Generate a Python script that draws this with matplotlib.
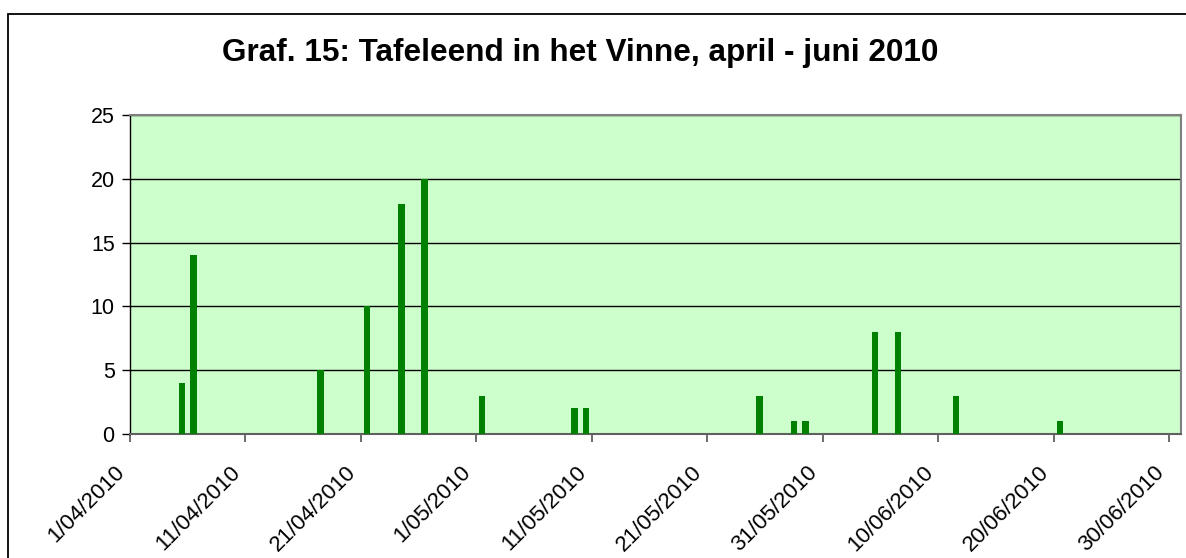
import matplotlib
matplotlib.use("Agg")
import matplotlib.pyplot as plt
import matplotlib.dates as mdates
from matplotlib.ticker import FuncFormatter, MultipleLocator
from matplotlib.patches import Rectangle
from matplotlib.transforms import ScaledTranslation
import datetime as dt

title = "Graf. 15: Tafeleend in het Vinne, april - juni 2010"
dates = ["2010-04-05", "2010-04-06", "2010-04-17", "2010-04-21", "2010-04-24",
         "2010-04-26", "2010-05-01", "2010-05-09", "2010-05-10", "2010-05-25",
         "2010-05-28", "2010-05-29", "2010-06-04", "2010-06-06", "2010-06-11",
         "2010-06-20"]
counts = [4, 14, 5, 10, 18, 20, 3, 2, 2, 3, 1, 1, 8, 8, 3, 1]
x_start = "2010-04-01"
x_end = "2010-07-01"
tick_step_days = 10
y_max = 25
y_step = 5

plt.rcParams['font.family'] = ['Liberation Sans', 'DejaVu Sans']

fig = plt.figure(figsize=(11.86, 5.58), dpi=100)
fig.patch.set_facecolor('white')
fig.patches.append(Rectangle((8 / 1186, -0.1), 1.2, 1.1 - 14 / 558, transform=fig.transFigure,
                             fill=False, edgecolor='black', linewidth=1.3))

ax = fig.add_axes([130 / 1186, (558 - 434) / 558, (1181 - 130) / 1186, (434 - 115) / 558])
ax.set_facecolor('#CCFFCC')

d = [dt.datetime.strptime(s, "%Y-%m-%d") + dt.timedelta(hours=12) for s in dates]
ax.bar(d, counts, width=0.55, color='#008000', zorder=3)

x0 = dt.datetime.strptime(x_start, "%Y-%m-%d")
x1 = dt.datetime.strptime(x_end, "%Y-%m-%d")
ax.set_xlim(x0, x1)
ax.set_ylim(0, y_max)

ticks = []
t = x0
while t < x1:
    ticks.append(t)
    t += dt.timedelta(days=tick_step_days)
ax.set_xticks(ticks)
ax.xaxis.set_major_formatter(FuncFormatter(
    lambda v, p: (lambda q: f"{q.day}/{q.month:02d}/{q.year}")(mdates.num2date(v))))
ax.yaxis.set_major_locator(MultipleLocator(y_step))

ax.grid(axis='y', color='black', linewidth=1.0, zorder=1)
ax.set_axisbelow(True)

for side in ['top', 'right']:
    ax.spines[side].set_color('#808080')
    ax.spines[side].set_linewidth(1.5)
ax.spines['left'].set_color('black')
ax.spines['left'].set_linewidth(1.0)
ax.spines['bottom'].set_color('#606060')
ax.spines['bottom'].set_linewidth(1.5)

ax.tick_params(axis='y', direction='out', length=6, width=1, color='black',
               labelsize=15.5, pad=5)
ax.tick_params(axis='x', direction='out', length=6, width=1.3, color='#606060',
               labelsize=16, pad=6)
shift = ScaledTranslation(-16 / 100, -11 / 100, fig.dpi_scale_trans)
for lab in ax.get_xticklabels():
    lab.set_rotation(45)
    lab.set_ha('right')
    lab.set_va('top')
    lab.set_rotation_mode('anchor')
    lab.set_transform(lab.get_transform() + shift)

fig.text(580 / 1186, 1 - 60.7 / 558, title, ha='center', va='baseline',
         fontsize=22.7, fontweight='bold')

fig.savefig("out.png", dpi=100, facecolor='white')
